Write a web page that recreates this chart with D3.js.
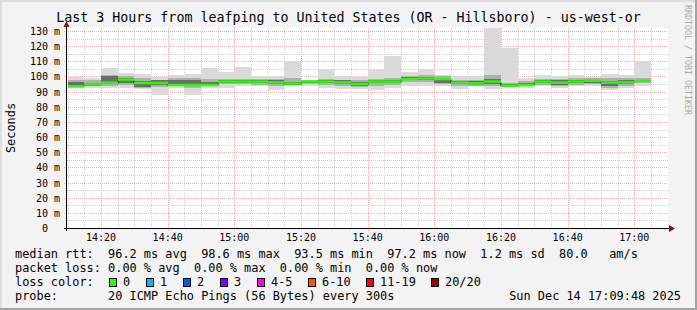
<!DOCTYPE html>
<html>
<head>
<meta charset="utf-8">
<script src="https://cdn.jsdelivr.net/npm/d3@7"></script>
<style>
body { margin: 0; background: #f3f3f3; }
svg { display: block; }
text { font-family: "DejaVu Sans Mono", monospace; white-space: pre; fill: #000; }
</style>
</head>
<body>
<svg id="chart" width="697" height="310"></svg>
<script>
// 5 minute slots, start time of each bar
const slots = ["14:10","14:15","14:20","14:25","14:30","14:35","14:40","14:45","14:50","14:55",
               "15:00","15:05","15:10","15:15","15:20","15:25","15:30","15:35","15:40","15:45",
               "15:50","15:55","16:00","16:05","16:10","16:15","16:20","16:25","16:30","16:35",
               "16:40","16:45","16:50","16:55","17:00"];

// median rtt (ms)
const rttMedian = [93.5,94.8,95.9,97.9,95.7,95.7,94.4,94.4,94.4,96.6,96.6,96.6,
                   96.1,95.3,96.6,96.6,96.1,95.0,96.6,96.6,98.3,98.6,98.3,95.9,
                   95.4,96.6,93.9,94.4,96.6,95.9,96.6,97.2,95.9,96.1,97.2];
// smoke: slowest / fastest ping of each slot (ms)
const rttMax = [99.9,98.8,105.8,102.0,101.6,99.9,101.0,101.5,105.8,103.0,106.2,100.0,
                100.0,110.4,97.6,104.7,100.0,99.5,105.2,113.7,103.0,104.7,100.7,100.0,
                100.0,132.2,119.0,98.8,101.0,100.0,100.7,99.5,101.6,101.0,110.4];
const rttMin = [92.2,92.5,92.2,92.2,91.5,87.8,92.2,88.0,92.5,92.5,93.5,93.5,
                91.0,94.0,93.5,92.5,92.0,92.0,91.3,92.5,93.5,93.5,93.5,92.0,
                93.5,92.0,93.5,92.5,93.5,92.5,93.8,93.8,91.3,92.5,94.0];
// inner smoke bands
const rttP90 = [98.0,97.5,101.0,100.0,99.0,98.0,99.0,99.0,98.5,98.5,98.5,98.5,
                98.5,99.0,97.5,98.5,98.0,97.5,98.5,99.0,100.5,101.0,100.0,98.0,
                98.0,101.0,96.0,97.0,98.5,98.5,99.0,99.0,99.0,99.0,99.0];
const rttP75 = [96.5,96.0,100.0,99.0,97.0,97.5,97.5,97.5,96.5,97.5,97.5,97.5,
                97.5,96.5,97.0,97.5,97.5,96.5,97.5,97.5,99.5,99.5,99.0,97.0,
                97.0,98.5,95.0,95.5,97.5,97.5,98.0,98.0,97.0,97.5,98.0];
const rttP25 = [94.0,94.0,95.0,96.0,93.0,94.5,94.0,94.0,94.0,96.0,96.0,95.5,
                95.0,94.5,96.0,95.5,95.0,93.5,95.5,95.5,97.5,97.5,96.0,95.0,
                94.5,95.0,93.5,94.0,95.5,94.5,95.5,96.0,93.5,95.0,96.5];
const rttP10 = [93.0,93.5,94.0,94.5,92.5,93.0,93.5,92.5,93.5,95.0,95.0,94.5,
                93.5,94.5,95.0,94.5,94.0,93.0,94.0,94.5,96.5,96.5,95.0,94.0,
                94.0,94.0,93.5,93.5,94.5,93.5,94.5,95.0,92.5,94.0,95.5];

const yTicks = [0,10,20,30,40,50,60,70,80,90,100,110,120,130];

const rttStats = [96.2, 98.6, 93.5, 97.2];
const lossStats = [0.00, 0.00, 0.00, 0.00];
const statNames = ["avg", "max", "min", "now"];
const rttSd = 1.2, rttAms = 80.0;

const lossLabels = ["0", "1", "2", "3", "4-5", "6-10", "11-19", "20/20"];
const lossColors = ["#26ff00", "#00b8ff", "#0059ff", "#7e00ff", "#ff00ff", "#ff5500", "#ff0000", "#a10000"];
const lossBoxX = [109, 146, 183, 220, 257, 308, 366, 431];

const titleText = "Last 3 Hours from leafping to United States (OR - Hillsboro) - us-west-or";
const probeText = "20 ICMP Echo Pings (56 Bytes) every 300s";
const dateText = "Sun Dec 14 17:09:48 2025";

const svg = d3.select("#chart");
const plotL = 67, plotR = 667, plotT = 28, plotB = 228;
const parse = d3.timeParse("%Y-%m-%d %H:%M:%S");
const t0 = parse("2025-12-14 14:09:48"), t1 = parse("2025-12-14 17:09:48");

const x = d3.scaleTime().domain([t0, t1]).range([plotL, plotR]);
const y = d3.scaleLinear().domain([0, 132]).range([plotB, plotT]);

const bars = slots.map(function (s, i) {
    var start = parse("2025-12-14 " + s + ":00");
    return {
        start: start, end: d3.timeMinute.offset(start, 5),
        med: rttMedian[i], min: rttMin[i], max: rttMax[i],
        p10: rttP10[i], p25: rttP25[i], p75: rttP75[i], p90: rttP90[i]
    };
});

// frame
svg.append("rect").attr("width", 697).attr("height", 310).attr("fill", "#f3f3f3");
svg.append("rect").attr("x", 0).attr("y", 0).attr("width", 697).attr("height", 2).attr("fill", "#dedede");
svg.append("rect").attr("x", 0).attr("y", 0).attr("width", 2).attr("height", 310).attr("fill", "#dedede");
svg.append("rect").attr("x", 0).attr("y", 308).attr("width", 697).attr("height", 2).attr("fill", "#a3a3a3");
svg.append("rect").attr("x", 695).attr("y", 0).attr("width", 2).attr("height", 310).attr("fill", "#a3a3a3");

svg.append("rect").attr("x", plotL).attr("y", plotT)
    .attr("width", plotR - plotL + 1).attr("height", plotB - plotT)
    .attr("fill", "#ffffff");

// grid
var grid = svg.append("g").attr("shape-rendering", "crispEdges").attr("stroke-dasharray", "1,1");
var majorT = x.ticks(d3.timeMinute.every(20));
var minorT = x.ticks(d3.timeMinute.every(5)).filter(function (t) { return t.getMinutes() % 20 != 0; });

grid.selectAll(".minx").data(minorT).enter().append("line")
    .attr("x1", function (d) { return Math.round(x(d)) + 0.5; })
    .attr("x2", function (d) { return Math.round(x(d)) + 0.5; })
    .attr("y1", plotT).attr("y2", plotB)
    .attr("stroke", "#d2d2d2");
grid.selectAll(".miny").data(d3.range(5, 132, 10)).enter().append("line")
    .attr("x1", plotL).attr("x2", plotR + 1)
    .attr("y1", function (d) { return Math.round(y(d)) + 0.5; })
    .attr("y2", function (d) { return Math.round(y(d)) + 0.5; })
    .attr("stroke", "#d2d2d2");
grid.selectAll(".majx").data(majorT).enter().append("line")
    .attr("x1", function (d) { return Math.round(x(d)) + 0.5; })
    .attr("x2", function (d) { return Math.round(x(d)) + 0.5; })
    .attr("y1", plotT).attr("y2", plotB + 3)
    .attr("stroke", "#f4b0b0");
grid.selectAll(".majy").data(yTicks.slice(1)).enter().append("line")
    .attr("x1", plotL - 3).attr("x2", plotR + 1)
    .attr("y1", function (d) { return Math.round(y(d)) + 0.5; })
    .attr("y2", function (d) { return Math.round(y(d)) + 0.5; })
    .attr("stroke", "#f4b0b0");

// smoke
var smoke = svg.append("g").attr("shape-rendering", "crispEdges");
function band(lo, hi, color) {
    smoke.selectAll(null).data(bars).enter().append("rect")
        .attr("x", function (d) { return Math.round(x(d.start)); })
        .attr("width", function (d) { return Math.round(x(d.end)) - Math.round(x(d.start)); })
        .attr("y", function (d) { return y(d[hi]); })
        .attr("height", function (d) { return y(d[lo]) - y(d[hi]); })
        .attr("fill", color);
}
band("min", "max", "#dadada");
band("p10", "p90", "#b0b0b0");
band("p25", "p75", "#6c6c6c");

// median step line, then the loss coloured band on top
var stepPts = bars.map(function (d) { return [d.start, d.med]; });
stepPts.push([bars[bars.length - 1].end, bars[bars.length - 1].med]);
svg.append("path")
    .attr("d", d3.line().curve(d3.curveStepAfter)
        .x(function (d) { return Math.round(x(d[0])); })
        .y(function (d) { return Math.round(y(d[1])) + 0.5; })(stepPts))
    .attr("fill", "none").attr("stroke", "#202020").attr("stroke-width", 1);

svg.append("g").selectAll("rect").data(bars).enter().append("rect")
    .attr("x", function (d) { return Math.round(x(d.start)); })
    .attr("width", function (d) { return Math.round(x(d.end)) - Math.round(x(d.start)); })
    .attr("y", function (d) { return y(d.med) - 1.25; })
    .attr("height", 2.5)
    .attr("fill", lossColors[0]);

// axes
svg.append("line").attr("x1", plotL - 3).attr("x2", plotR + 2)
    .attr("y1", plotB + 0.5).attr("y2", plotB + 0.5)
    .attr("stroke", "#000").attr("shape-rendering", "crispEdges");
svg.append("line").attr("x1", plotL - 0.5).attr("x2", plotL - 0.5)
    .attr("y1", plotB + 3).attr("y2", plotT - 3)
    .attr("stroke", "#000").attr("shape-rendering", "crispEdges");
svg.append("path").attr("d", "M669,225L675,228.5L669,232Z").attr("fill", "#7f1010");
svg.append("path").attr("d", "M63.5,27L66.5,21L69.5,27Z").attr("fill", "#7f1010");

svg.append("g").selectAll("text").data(yTicks).enter().append("text")
    .attr("x", function (d) { return d == 0 ? 48 : 60; })
    .attr("y", function (d) { return y(d) + 4; })
    .attr("text-anchor", "end")
    .attr("font-size", "10px")
    .text(function (d) { return d == 0 ? "0" : d + " m"; });

svg.append("g").selectAll("text").data(majorT).enter().append("text")
    .attr("x", function (d) { return x(d); })
    .attr("y", 241)
    .attr("text-anchor", "middle")
    .attr("font-size", "10px")
    .text(d3.timeFormat("%H:%M"));

// titles
svg.append("text").attr("x", 348.5).attr("y", 22).attr("text-anchor", "middle")
    .attr("font-size", "13.3px").text(titleText);
svg.append("text").attr("transform", "translate(15,128) rotate(-90)")
    .attr("text-anchor", "middle").attr("font-size", "11.9px").text("Seconds");
svg.append("text").attr("transform", "translate(685,5) rotate(90)")
    .attr("font-size", "8.3px").style("fill", "#ababab").text("RRDTOOL / TOBI OETIKER");

// legend
var fmt1 = d3.format(".1f"), fmt2 = d3.format(".2f");
var row1 = "median rtt:  " + rttStats.map(function (v, i) { return fmt1(v) + " ms " + statNames[i]; }).join("  ")
    + "  " + fmt1(rttSd) + " ms sd  " + fmt1(rttAms) + "   am/s";
var row2 = "packet loss: " + lossStats.map(function (v, i) { return fmt2(v) + " % " + statNames[i]; }).join("  ");
var legend = svg.append("g").attr("font-size", "11.9px");
legend.append("text").attr("x", 15).attr("y", 258).text(row1);
legend.append("text").attr("x", 15).attr("y", 272).text(row2);
legend.append("text").attr("x", 15).attr("y", 286).text("loss color:");
legend.append("text").attr("x", 15).attr("y", 300).text("probe:       " + probeText);
legend.append("text").attr("x", 681).attr("y", 300).attr("text-anchor", "end").text(dateText);

var items = legend.selectAll(".lc").data(lossLabels).enter().append("g");
items.append("rect")
    .attr("x", function (d, i) { return lossBoxX[i] + 0.5; })
    .attr("y", 278.5).attr("width", 7).attr("height", 8)
    .attr("fill", function (d, i) { return lossColors[i]; })
    .attr("stroke", "#000").attr("shape-rendering", "crispEdges");
items.append("text")
    .attr("x", function (d, i) { return lossBoxX[i] + 14; })
    .attr("y", 286)
    .text(function (d) { return d; });
</script>
</body>
</html>
